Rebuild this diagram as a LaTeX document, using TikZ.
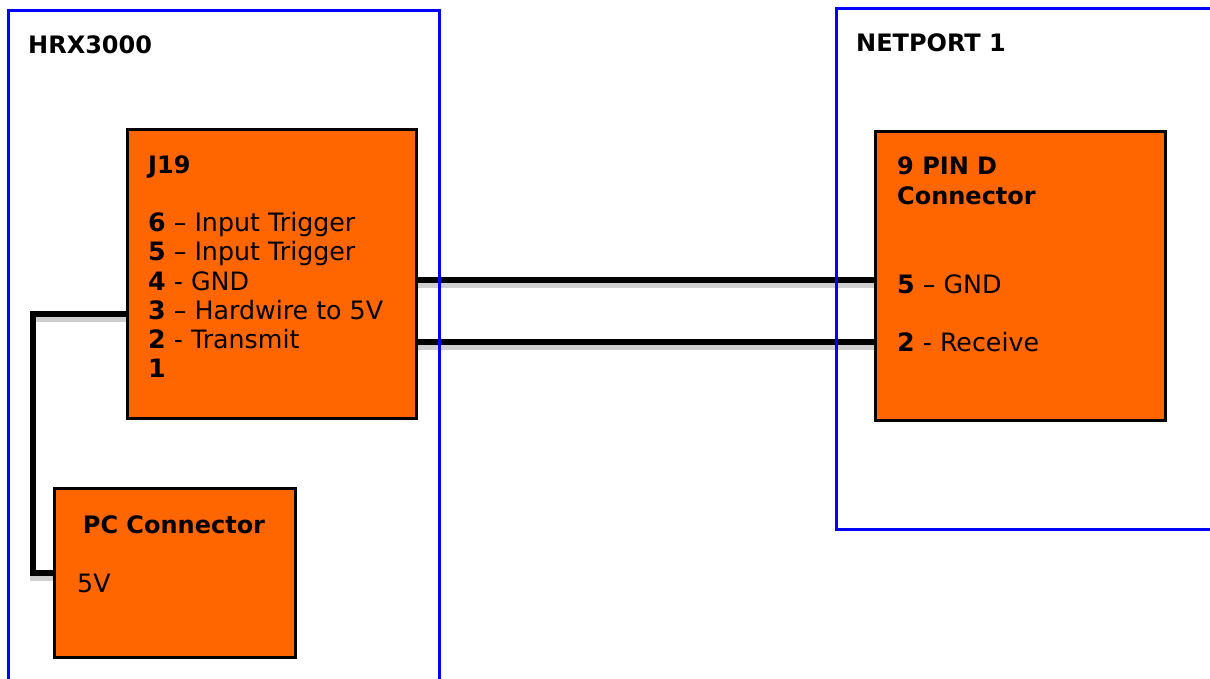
\documentclass[tikz,border=0pt]{standalone}
\usepackage{fontspec}
\setmainfont{DejaVu Sans}
\definecolor{partorange}{HTML}{FF6600}
\definecolor{frameblue}{HTML}{0000FF}
\definecolor{wireshade}{HTML}{CFCFCF}

\begin{document}
\begin{tikzpicture}[x=1pt, y=-1pt,
  every node/.style={font=\fontsize{25.3}{29}\selectfont, inner sep=0pt},
  frame/.style={draw=frameblue, line width=2.6pt, rectangle, anchor=north west},
  part/.style={draw=black, fill=partorange, line width=2pt, rectangle, anchor=north west},
  title/.style={anchor=base west, font=\fontsize{24}{29}\selectfont\bfseries},
  wire/.style={line width=5.5pt, black},
  wireshadow/.style={line width=5.5pt, wireshade, transform canvas={yshift=-5pt}}]

\useasboundingbox (0,0) rectangle (1210,679);

% ---------- PARTS ----------
\node[part, minimum width=288pt, minimum height=288pt] (j19) at (127,129) {};
\node[part, minimum width=289pt, minimum height=288pt] (dsub) at (875,131) {};
\node[part, minimum width=240pt, minimum height=168pt] (pc) at (54,488) {};

% J19 pins
\node[title] (j19title) at (148,174) {J19};
\foreach \pin/\txt [count=\i from 0] in {6/{– Input Trigger}, 5/{– Input Trigger},
    4/{- GND}, 3/{– Hardwire to 5V}, 2/{- Transmit}, 1/{}}
  \node[anchor=base west] (j19p\pin) at (148,232+29*\i) {\textbf{\pin} \txt};

% D-sub pins
\node[title] (dsubtitle) at (897,175) {9 PIN D};
\node[title] (dsubtitle2) at (897,205) {Connector};
\node[anchor=base west] (dsubp5) at (897,293) {\textbf{5} – GND};
\node[anchor=base west] (dsubp2) at (897,351) {\textbf{2} - Receive};

% PC connector
\node[title, anchor=base] (pctitle) at (174,533) {PC Connector};
\node[anchor=base west] (pc5v) at (77,592) {5V};

% ---------- WIRES ----------
\coordinate (gndrail) at (0,280);
\coordinate (txrail) at (0,342);
\coordinate (bendA) at (33,314);
\coordinate (bendB) at (33,573);

\foreach \sty in {wireshadow, wire} {
  \draw[\sty] (j19.east |- gndrail) -- (dsub.west |- gndrail);
  \draw[\sty] (j19.east |- txrail) -- (dsub.west |- txrail);
  \draw[\sty, line join=miter] (j19.west |- bendA) -- (bendA) -- (bendB) -- (pc.west |- bendB);
}
% redraw part borders over wire ends
\draw[line width=2pt] (j19.north west) rectangle (j19.south east);
\draw[line width=2pt] (dsub.north west) rectangle (dsub.south east);
\draw[line width=2pt] (pc.north west) rectangle (pc.south east);

% ---------- FRAMES ----------
\node[frame, minimum width=431pt, minimum height=690pt] (hrx) at (7,9) {};
\node[frame, minimum width=400pt, minimum height=521pt] (netport) at (835,7) {};
\node[title] (hrxtitle) at (28,54) {HRX3000};
\node[title] (netporttitle) at (856,52) {NETPORT 1};

\end{tikzpicture}
\end{document}
